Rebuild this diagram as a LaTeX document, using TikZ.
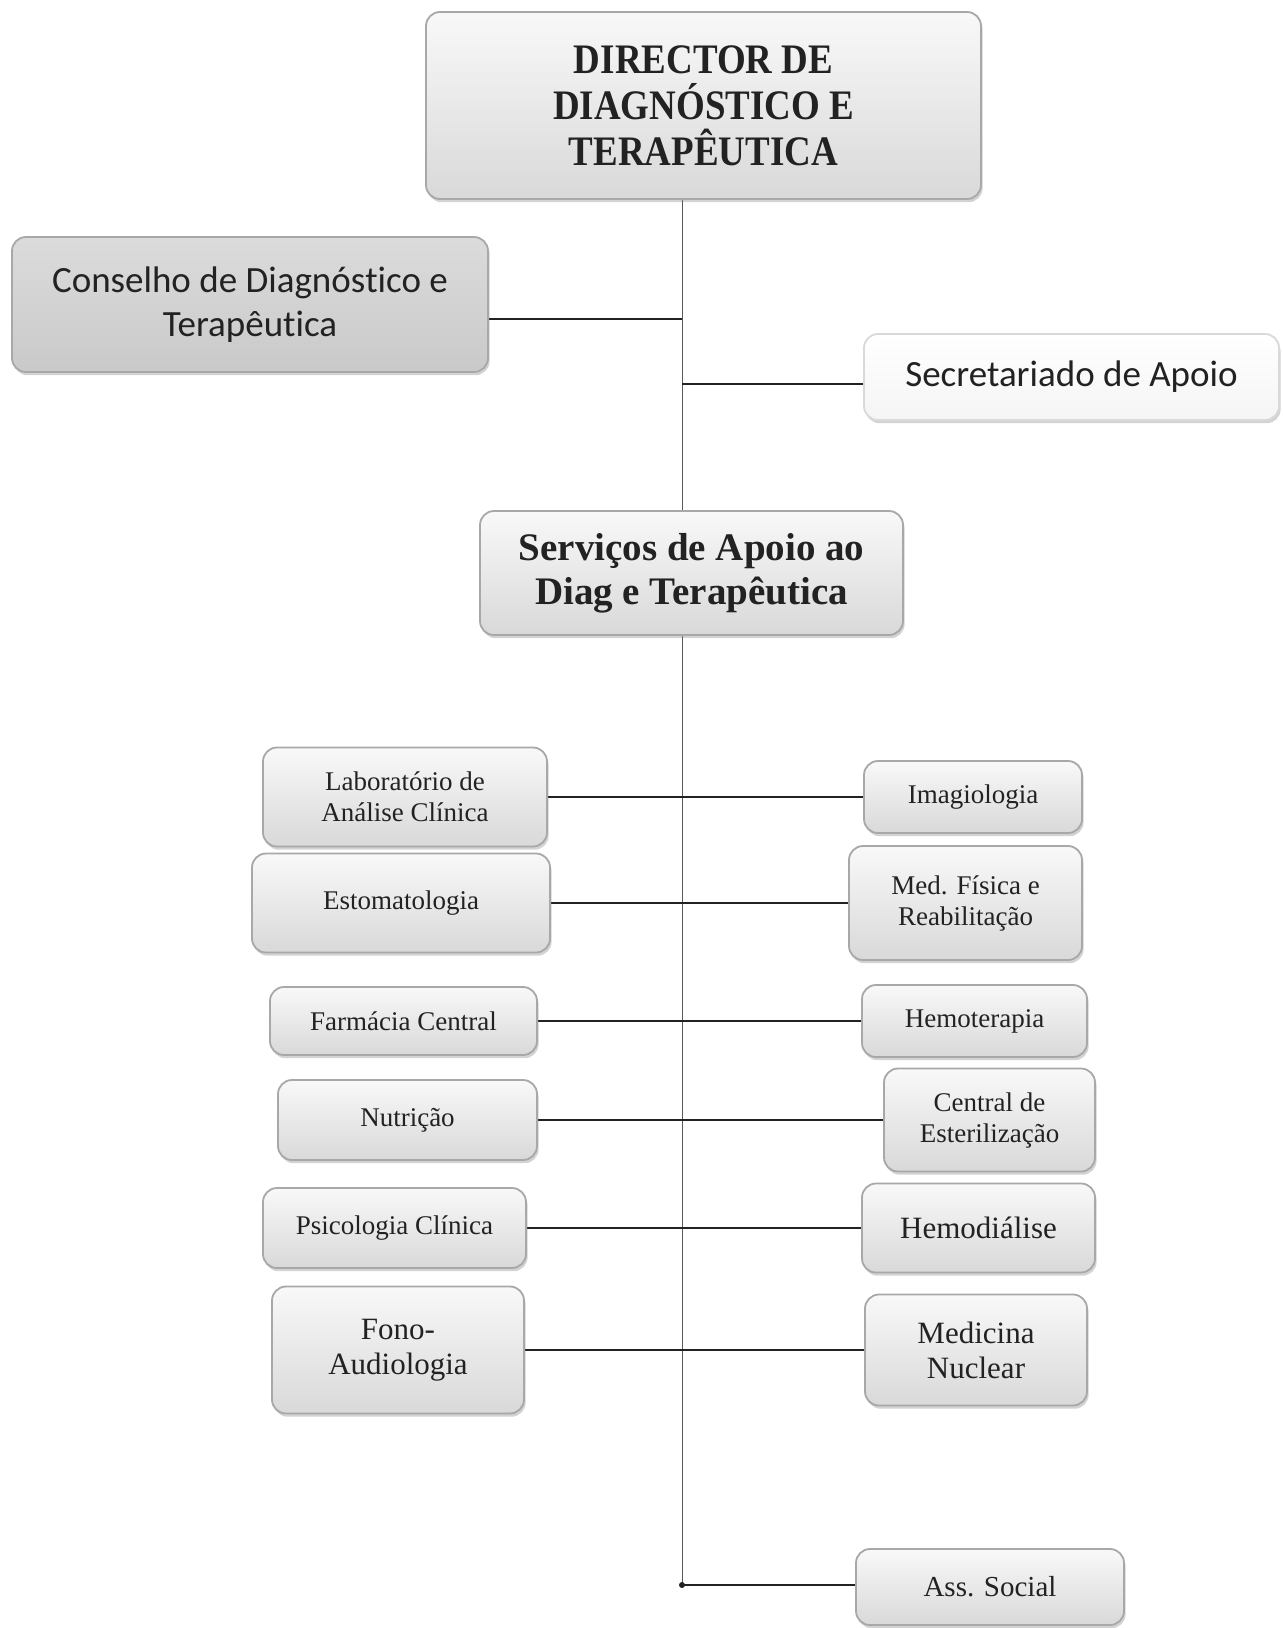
\documentclass[tikz,border=0pt]{standalone}
\usepackage{fontspec}
\setmainfont{Liberation Serif}
\newfontfamily\headserif[FakeStretch=0.88]{Liberation Serif}
\newfontfamily\calib[Ligatures={NoCommon,NoRequired},Contextuals=NoAlternate]{Carlito}
\usetikzlibrary{shadows,backgrounds}

\definecolor{inkcol}{HTML}{222222}
\definecolor{edgecol}{HTML}{A8A8A8}

\tikzset{
  orgbox/.style={rounded corners=7pt, draw=edgecol, line width=0.9pt,
    top color=gray!5, bottom color=gray!30, inner sep=0pt, align=center,
    text=inkcol,
    drop shadow={shadow xshift=0.8pt, shadow yshift=-1.6pt, opacity=0.35}},
  darkbox/.style={orgbox, top color=gray!28, bottom color=gray!42},
  lightbox/.style={orgbox, top color=white, bottom color=gray!8, draw=gray!30},
  smalltxt/.style={font=\fontsize{13.5}{15.5}\selectfont},
  midtxt/.style={font=\fontsize{15.5}{17.5}\selectfont},
  spine/.style={draw=gray!70!black, line width=0.5pt},
  link/.style={draw=inkcol, line width=1.1pt}
}

\begin{document}
\begin{tikzpicture}[x=0.5pt, y=-0.5pt]
\useasboundingbox (0,0) rectangle (1282,1628);

% top of the chart
\node[orgbox, minimum width=277.5pt, minimum height=93.5pt,
      font=\headserif\bfseries\fontsize{21}{23}\selectfont]
  (dir) at (703.5,105.5) {DIRECTOR DE\\DIAGNÓSTICO E\\TERAPÊUTICA};

\node[darkbox, minimum width=238pt, minimum height=67.5pt,
      font=\calib\fontsize{18.5}{22}\selectfont]
  (cons) at (250,304.5) {Conselho de Diagnós\kern0pt tico e\\Terapêu\kern0pt tica};

\node[lightbox, minimum width=207.5pt, minimum height=43pt,
      font=\calib\fontsize{18.5}{22}\selectfont]
  (sec) at (1071.5,377) {Secretariado de Apoio};

\node[orgbox, minimum width=211.5pt, minimum height=62pt,
      font=\bfseries\fontsize{19.5}{22}\selectfont]
  (serv) at (691.5,573) {Serviços de Apoio ao\\Diag e Terapêutica};

% left column of services
\node[orgbox, smalltxt, minimum width=142pt, minimum height=49.5pt]
  (lab) at (405,797) {Laboratório de\\Análise Clínica};
\node[orgbox, smalltxt, minimum width=149pt, minimum height=49.5pt]
  (esto) at (401,903) {Estomatologia};
\node[orgbox, smalltxt, minimum width=133.5pt, minimum height=34pt]
  (farm) at (403.5,1021) {Farmácia Central};
\node[orgbox, smalltxt, minimum width=129.5pt, minimum height=40pt]
  (nutr) at (407.5,1120) {Nutrição};
\node[orgbox, smalltxt, minimum width=131.5pt, minimum height=40pt]
  (psic) at (394.5,1228) {Psicologia Clínica};
\node[orgbox, midtxt, minimum width=126pt, minimum height=63.5pt]
  (fono) at (398,1350) {Fono-\\Audiologia};

% right column of services
\node[orgbox, smalltxt, minimum width=109pt, minimum height=36pt]
  (imag) at (973,797) {Imagiologia};
\node[orgbox, smalltxt, minimum width=116.5pt, minimum height=57pt]
  (mfr) at (965.5,903) {Med. Física e\\Reabilitação};
\node[orgbox, smalltxt, minimum width=112.5pt, minimum height=36pt]
  (hemt) at (974.5,1021) {Hemoterapia};
\node[orgbox, smalltxt, minimum width=105.5pt, minimum height=51.5pt]
  (este) at (989.5,1120) {Central de\\Esterilização};
\node[orgbox, midtxt, minimum width=116.5pt, minimum height=44.5pt]
  (hemd) at (978.5,1228) {Hemodiálise};
\node[orgbox, midtxt, minimum width=111pt, minimum height=55.5pt]
  (mnuc) at (976,1350) {Medicina\\Nuclear};

\node[orgbox, font=\fontsize{14.5}{16.5}\selectfont,
      minimum width=134pt, minimum height=38pt]
  (ass) at (990,1587) {Ass. Social};

% junctions on the central spine
\coordinate (spinetop) at (682,199);
\coordinate (jcons) at (682,319);
\coordinate (jsec) at (682,384);
\coordinate (spinebot) at (682,1585);

\begin{scope}[on background layer]
  \draw[spine] (spinetop) -- (spinebot);
  \draw[link] (cons.east |- jcons) -- (jcons);
  \draw[link] (jsec) -- (sec.west |- jsec);
  \draw[link] (lab.east) -- (imag.west);
  \draw[link] (esto.east) -- (mfr.west);
  \draw[link] (farm.east) -- (hemt.west);
  \draw[link] (nutr.east) -- (este.west);
  \draw[link] (psic.east) -- (hemd.west);
  \draw[link] (fono.east) -- (mnuc.west);
  \draw[link] (spinebot) -- (ass.west |- spinebot);
  \fill[inkcol] (spinebot) circle (3);
\end{scope}
\end{tikzpicture}
\end{document}
